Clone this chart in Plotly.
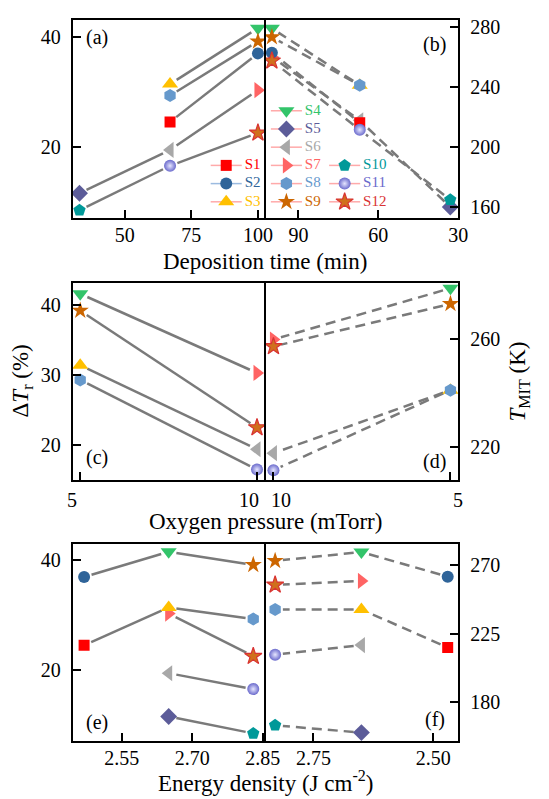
import plotly.graph_objects as go

W, H = 549, 799
FONT = "Liberation Serif"

# ---- sample data -------------------------------------------------------
samples = ["S1", "S2", "S3", "S4", "S5", "S6", "S7", "S8", "S9", "S10", "S11", "S12"]
dep_time = [67, 100, 67, 100, 33, 67, 100, 67, 100, 33, 67, 100]           # min
o2_pressure = [None, None, 5, 5, None, 10, 10, 5, 5, None, 10, 10]         # mTorr
energy_density = [2.47, 2.47, 2.65, 2.65, 2.65, 2.65, 2.65,
                  2.83, 2.83, 2.83, 2.83, 2.83]                            # J cm^-2
delta_tr = [24.5, 37.0, 31.4, 41.6, 11.5, 19.4, 30.3, 29.3, 39.2, 8.4, 16.5, 22.5]   # %
t_mit = [216.0, 262.6, 241.0, 278.8, 160.0, 217.6, 259.8, 241.0, 273.0,
         164.8, 211.3, 257.2]                                              # K

# series that are connected in each parameter sweep
chains_time = [["S3", "S4"], ["S8", "S9"], ["S1", "S2"],
               ["S5", "S6", "S7"], ["S10", "S11", "S12"]]
chains_pressure = [["S4", "S7"], ["S9", "S12"], ["S3", "S6"], ["S8", "S11"]]
chains_energy = [["S2", "S4", "S9"], ["S1", "S3", "S8"], ["S7", "S12"],
                 ["S6", "S11"], ["S5", "S10"]]

# tick labels
ticks_time_l, ticks_time_r = [50, 75, 100], [90, 60, 30]
ticks_p_l, ticks_p_r = [5, 10], [10, 5]
ticks_e_l, ticks_e_r = [2.55, 2.70, 2.85], [2.75, 2.50]
ticks_dtr_top, ticks_dtr_mid, ticks_dtr_bot = [20, 40], [20, 30, 40], [20, 40]
ticks_t_top, ticks_t_mid, ticks_t_bot = [160, 200, 240, 280], [220, 260], [180, 225, 270]

# ---- marker styles -----------------------------------------------------
symbols = ["square", "circle", "triangle-up", "triangle-down", "diamond",
           "triangle-left", "triangle-right", "hexagon", "star", "pentagon",
           "circle", "star"]
colors = ["#ff0000", "#2f6499", "#ffc000", "#33c46a", "#5c5c99", "#a8a8a8",
          "#ff6464", "#6699cc", "#cc6600", "#009999", "#6a6acc", "#d93333"]
fills = list(colors)
fills[11] = "#d0701c"
sizes = [11, 12, 14, 14, 13, 14, 14, 13, 13, 13, 12, 13]
legend_line = ["#ffaaaa", "#9cbbe0"] + ["#ffaaaa"] * 10
draw_order = ["S7", "S6", "S3", "S1", "S2", "S4", "S5", "S8", "S9", "S10", "S11", "S12"]

# ---- panel geometry (pixels) -------------------------------------------
COLS = [(75, 272), (274, 472)]
ROWS = [(16, 215), (280, 478), (543, 741)]
panels = [
    # xvals, yvals, chains, dashed, xrange, yrange, xticks, yticks, fmt, right, label, label shift
    (dep_time, delta_tr, chains_time, False, [30.5, 102.3], [7.0, 43.1],
     ticks_time_l, ticks_dtr_top, None, False, "(a)", None),
    (dep_time, t_mit, chains_time, True, [102.2, 30.0], [152.7, 284.4],
     ticks_time_r, ticks_t_top, None, True, "(b)", None),
    (o2_pressure, delta_tr, chains_pressure, False, [4.79, 10.2], [15.07, 43.2],
     ticks_p_l, ticks_dtr_mid, None, False, "(c)", -8),
    (o2_pressure, t_mit, chains_pressure, True, [10.21, 4.78], [207.8, 280.9],
     ticks_p_r, ticks_t_mid, None, True, "(d)", 8),
    (energy_density, delta_tr, chains_energy, False, [2.446, 2.853], [6.96, 42.96],
     ticks_e_l, ticks_dtr_bot, ".2f", False, "(e)", None),
    (energy_density, t_mit, chains_energy, True, [2.849, 2.448], [154.3, 283.9],
     ticks_e_r, ticks_t_bot, ".2f", True, "(f)", None),
]
TAG_POS = [(100, 34), (448, 41), (100, 456), (448, 460), (100, 722), (448, 719)]
TICK_FONT = dict(size=20, family=FONT, color="black")

GAP = 8  # px left free between a connecting line and the marker centre


def lin(v, rng, a, b):
    return a + (v - rng[0]) / (rng[1] - rng[0]) * (b - a)


def shortened_segments(xs, ys, chains, xr, yr, xpx, ypx):
    idx = {s: i for i, s in enumerate(samples)}
    lx, ly = [], []
    for chain in chains:
        for s0, s1 in zip(chain[:-1], chain[1:]):
            i0, i1 = idx[s0], idx[s1]
            p0 = (lin(xs[i0], xr, *xpx), lin(ys[i0], yr, ypx[1], ypx[0]))
            p1 = (lin(xs[i1], xr, *xpx), lin(ys[i1], yr, ypx[1], ypx[0]))
            dx, dy = p1[0] - p0[0], p1[1] - p0[1]
            d = (dx * dx + dy * dy) ** 0.5
            f = GAP / d
            q0 = (p0[0] + dx * f, p0[1] + dy * f)
            q1 = (p1[0] - dx * f, p1[1] - dy * f)
            for q in (q0, q1):
                lx.append(lin(q[0], [xpx[0], xpx[1]], xr[0], xr[1]))
                ly.append(lin(q[1], [ypx[1], ypx[0]], yr[0], yr[1]))
            lx.append(None)
            ly.append(None)
    return lx, ly


def marker_style(i):
    mk = dict(symbol=symbols[i], size=sizes[i], color=fills[i], line=dict(width=0))
    if samples[i] == "S12":
        mk["line"] = dict(width=1.2, color=colors[i])
    if samples[i] == "S11":
        mk["gradient"] = dict(type="radial", color="#e6e6ff")
    return mk


fig = go.Figure()
layout = dict(
    width=W, height=H, margin=dict(l=0, r=0, t=0, b=0),
    paper_bgcolor="white", plot_bgcolor="rgba(0,0,0,0)",
    showlegend=False, font=dict(family=FONT, color="black"),
)
annotations = []

for k, (xs, ys, chains, dashed, xr, yr, xt, yt, fmt, right, lab, shift) in enumerate(panels):
    n = k + 1
    col = COLS[k % 2]
    row = ROWS[k // 2]
    xa, ya = f"x{n}", f"y{n}"
    lx, ly = shortened_segments(xs, ys, chains, xr, yr, col, row)
    fig.add_trace(go.Scatter(
        x=lx, y=ly, mode="lines", xaxis=xa, yaxis=ya, hoverinfo="skip",
        line=dict(color="#7a7a7a", width=2.5, dash="10px,6px" if dashed else "solid"),
    ))
    for s in draw_order:
        i = samples.index(s)
        if xs[i] is None:
            continue
        fig.add_trace(go.Scatter(
            x=[xs[i]], y=[ys[i]], mode="markers", xaxis=xa, yaxis=ya,
            marker=marker_style(i), name=s,
        ))

    common = dict(
        showline=True, linecolor="black", linewidth=2, mirror=True,
        ticks="inside", ticklen=8, tickwidth=2, tickcolor="black",
        showgrid=False, zeroline=False, tickfont=TICK_FONT,
    )
    xaxis = dict(
        common, domain=[col[0] / W, col[1] / W], range=xr, anchor=ya,
        tickmode="array", tickvals=xt, ticklabelstandoff=-2,
        showticklabels=shift is None,
    )
    if fmt:
        xaxis["tickformat"] = fmt
    layout[f"xaxis{n}"] = xaxis
    layout[f"yaxis{n}"] = dict(
        common, domain=[1 - row[1] / H, 1 - row[0] / H], range=yr, anchor=xa,
        tickmode="array", tickvals=yt, side="right" if right else "left",
        ticklabelstandoff=6,
    )
    # tick labels offset sideways from their ticks, placed as annotations
    if shift is not None:
        for v in xt:
            annotations.append(dict(
                text=f"{v:g}", x=v, xref=xa, y=1 - (row[1] + 20) / H, yref="paper",
                xshift=shift, showarrow=False, font=TICK_FONT,
                xanchor="center", yanchor="middle",
            ))
    tx, ty = TAG_POS[k]
    annotations.append(dict(
        text=lab, x=tx / W, y=1 - ty / H, xref="paper", yref="paper",
        showarrow=False, font=dict(size=20, family=FONT, color="black"),
        xanchor="center", yanchor="middle",
    ))

# shared axis titles
titles = [
    ("Deposition time (min)", 273, 259, 0),
    ("Oxygen pressure (mTorr)", 273, 520, 0),
    ("Energy density (J cm<sup>-2</sup>)", 273, 781, 0),
    ("Δ<i>T</i><sub>r</sub> (%)", 23, 379, -90),
    ("<i>T</i><sub>MIT</sub> (K)", 535, 379, -90),
]
for txt, px, py, ang in titles:
    annotations.append(dict(
        text=txt, x=px / W, y=1 - py / H, xref="paper", yref="paper",
        showarrow=False, textangle=ang, xanchor="center", yanchor="middle",
        font=dict(size=23, family=FONT, color="black"),
    ))

# ---- legend, laid out on a full-page overlay axis (pixel units) --------
LEG_COLS = {0: 233, 1: 295, 2: 355}      # marker centre x per column
LEG_ROW0, LEG_STEP = 107.3, 18.3
LEG_HALF, LEG_TXT = 16, 19
legend_slots = {"S1": (0, 3), "S2": (0, 4), "S3": (0, 5),
                "S4": (1, 0), "S5": (1, 1), "S6": (1, 2), "S7": (1, 3),
                "S8": (1, 4), "S9": (1, 5),
                "S10": (2, 3), "S11": (2, 4), "S12": (2, 5)}
for i, s in enumerate(samples):
    c, r = legend_slots[s]
    cx, cy = LEG_COLS[c], LEG_ROW0 + r * LEG_STEP
    fig.add_trace(go.Scatter(
        x=[cx - LEG_HALF, cx + LEG_HALF], y=[cy, cy], mode="lines",
        xaxis="x7", yaxis="y7", hoverinfo="skip",
        line=dict(color=legend_line[i], width=1.5),
    ))
    fig.add_trace(go.Scatter(
        x=[cx], y=[cy], mode="markers", xaxis="x7", yaxis="y7",
        marker=marker_style(i), hoverinfo="skip",
    ))
    fig.add_trace(go.Scatter(
        x=[cx + LEG_TXT], y=[cy], mode="text", xaxis="x7", yaxis="y7",
        text=[s], textposition="middle right", hoverinfo="skip",
        textfont=dict(size=15, family=FONT, color=colors[i]),
    ))

layout["xaxis7"] = dict(domain=[0, 1], range=[0, W], visible=False, anchor="y7",
                        fixedrange=True)
layout["yaxis7"] = dict(domain=[0, 1], range=[H, 0], visible=False, anchor="x7",
                        fixedrange=True)
layout["annotations"] = annotations
fig.update_layout(**layout)

fig.write_html("out.html")
